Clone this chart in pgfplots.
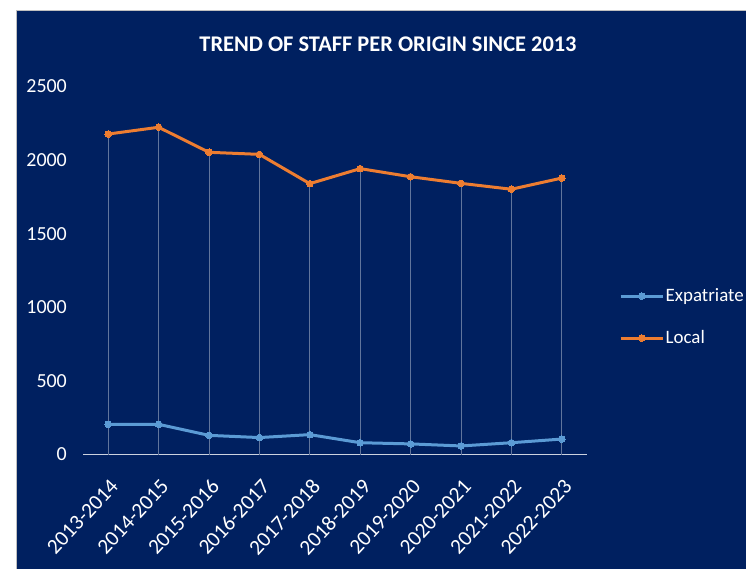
\documentclass[border=0pt]{standalone}
\usepackage{fontspec}
\setmainfont{Carlito}
\usepackage{pgfplots}
\pgfplotsset{compat=1.18}
\definecolor{navy}{HTML}{002060}
\definecolor{lorange}{HTML}{ED7D31}
\definecolor{lblue}{HTML}{5B9BD5}
\newcommand\lab{\fontsize{20}{24}\selectfont}
\newcommand\xlab{\fontsize{21.5}{26}\selectfont}
\newcommand\leglab{\fontsize{19}{23}\selectfont}
\begin{document}
\begin{tikzpicture}
\path[use as bounding box] (0,0) rectangle (746bp,569bp);
\fill[white] (0,0) rectangle (746bp,569bp);
\fill[navy] (16bp,0) rectangle (746bp,559bp);
\draw[gray!50, line width=0.8bp] (16bp,0) -- (16bp,559bp) -- (746bp,559bp);
\node[text=white, font=\fontsize{22.5}{27}\selectfont\bfseries] at (388bp,525bp) {TREND OF STAFF PER ORIGIN SINCE 2013};
\begin{axis}[
  at={(83bp,114.5bp)}, anchor=south west,
  scale only axis, width=504bp, height=368bp,
  xmin=-0.5, xmax=9.5, ymin=0, ymax=2500,
  xtick={0,...,9},
  xticklabels={2013-2014,2014-2015,2015-2016,2016-2017,2017-2018,2018-2019,2019-2020,2020-2021,2021-2022,2022-2023},
  ytick={0,500,...,2500},
  major tick length=0pt,
  axis x line*=bottom, axis y line*=left,
  x axis line style={draw=white!80!navy, line width=1.5bp},
  y axis line style={draw=none},
  /pgf/number format/assume math mode=true,
  /pgf/number format/1000 sep={},
  xticklabel style={font=\xlab, text=white, inner sep=0pt, xshift=1bp, yshift=-23bp, rotate=47, anchor=north east},
  yticklabel style={font=\lab, text=white, inner sep=0pt, anchor=east, xshift=-16bp},
  legend style={at={(1.0635,0.3736)}, anchor=west, draw=none, fill=none, text=white, font=\leglab, inner sep=0pt, row sep=21bp, nodes={inner sep=1.5bp, text height=14bp, text depth=4bp}},
  legend cell align=left,
  legend image code/.code={\draw[mark repeat=2,mark phase=2,#1] plot coordinates {(0bp,0bp) (21bp,0bp) (42bp,0bp)};},
]
\addplot[ycomb, draw=white!38!navy, line width=1bp, forget plot] coordinates {
(0,2177) (1,2223) (2,2053) (3,2039) (4,1840) (5,1942) (6,1887) (7,1842) (8,1802) (9,1878)};
\addplot[lblue, line width=3bp, line join=round, mark=*, mark size=3.3bp, mark options={fill=lblue, draw=lblue, line width=0pt}] coordinates {
(0,205) (1,205) (2,130) (3,115) (4,135) (5,80) (6,72) (7,58) (8,80) (9,105)};
\addlegendentry{Expatriate}
\addplot[lorange, line width=3bp, line join=round, mark=*, mark size=3.3bp, mark options={fill=lorange, draw=lorange, line width=0pt}] coordinates {
(0,2177) (1,2223) (2,2053) (3,2039) (4,1840) (5,1942) (6,1887) (7,1842) (8,1802) (9,1878)};
\addlegendentry{Local}
\end{axis}
\end{tikzpicture}
\end{document}
